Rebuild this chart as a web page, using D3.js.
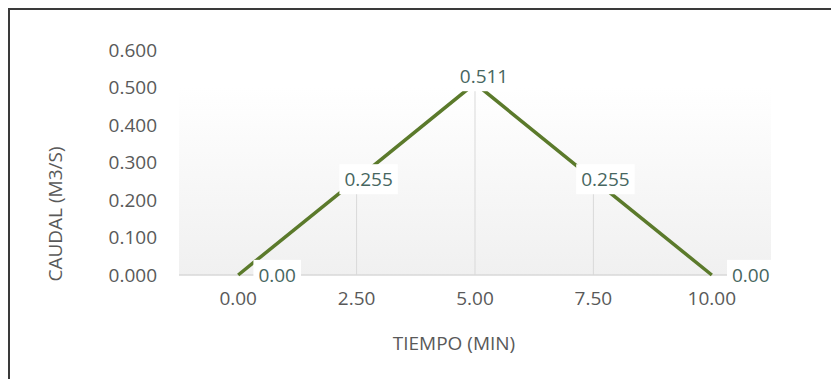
<!DOCTYPE html>
<html lang="es">
<head>
  <meta charset="UTF-8" />
  <title>Caudal vs Tiempo</title>
  <script src="https://d3js.org/d3.v7.min.js"></script>
  <style>
    body {
      margin: 0;
      background: #ffffff;
      font-family: "Open Sans", sans-serif;
    }
    svg {
      display: block;
    }
  </style>
</head>
<body>
<svg width="831" height="379"></svg>

<script>
  // data
  const tiempo = ["0.00", "2.50", "5.00", "7.50", "10.00"];
  const caudal = [0, 0.255, 0.511, 0.255, 0];
  const labels = ["0.00", "0.255", "0.511", "0.255", "0.00"];
  const yTicks = [0, 0.1, 0.2, 0.3, 0.4, 0.5, 0.6];

  const svg = d3.select("svg");
  const plot = { left: 179, right: 771, top: 50, bottom: 275 };
  const fontSize = "19px";

  const x = d3.scaleBand().domain(tiempo).range([plot.left, plot.right]).padding(0);
  const y = d3.scaleLinear().domain([0, 0.6]).range([plot.bottom, plot.top]);
  const cx = d => x(d) + x.bandwidth() / 2;

  // outer frame (runs past the right and bottom edges)
  svg.append("rect")
    .attr("x", 9).attr("y", 9)
    .attr("width", 840).attr("height", 400)
    .attr("fill", "none")
    .attr("stroke", "#3a3a3a")
    .attr("stroke-width", 2);

  // plot background gradient
  const grad = svg.append("defs").append("linearGradient")
    .attr("id", "bg").attr("x1", 0).attr("y1", 0).attr("x2", 0).attr("y2", 1);
  grad.append("stop").attr("offset", "0%").attr("stop-color", "#ffffff");
  grad.append("stop").attr("offset", "100%").attr("stop-color", "#f0f0f0");

  svg.append("rect")
    .attr("x", plot.left).attr("y", y(0.5))
    .attr("width", plot.right - plot.left)
    .attr("height", plot.bottom - y(0.5))
    .attr("fill", "url(#bg)");

  // drop lines
  svg.append("g").selectAll("line")
    .data(tiempo.map((t, i) => ({ t, v: caudal[i] })).filter(d => d.v > 0))
    .enter().append("line")
    .attr("x1", d => cx(d.t)).attr("x2", d => cx(d.t))
    .attr("y1", y(0)).attr("y2", d => y(d.v))
    .attr("stroke", "#d9d9d9")
    .attr("stroke-width", 1);

  // y axis
  const yAxis = svg.append("g")
    .attr("transform", `translate(${plot.left},0)`)
    .call(d3.axisLeft(y).tickValues(yTicks).tickFormat(d3.format(".3f")).tickSize(0).tickPadding(22));
  yAxis.select(".domain").remove();

  // x axis
  const xAxis = svg.append("g")
    .attr("transform", `translate(0,${plot.bottom})`)
    .call(d3.axisBottom(x).tickSize(0).tickPadding(17));
  xAxis.select(".domain").remove();

  svg.selectAll(".tick text")
    .attr("fill", "#595959")
    .style("font-family", "'Open Sans', sans-serif")
    .style("font-size", fontSize);

  // baseline
  svg.append("line")
    .attr("x1", plot.left).attr("x2", plot.right)
    .attr("y1", y(0)).attr("y2", y(0))
    .attr("stroke", "#d9d9d9")
    .attr("stroke-width", 1.5);

  // series line
  const line = d3.line().x((d, i) => cx(tiempo[i])).y(d => y(d));
  svg.append("path")
    .datum(caudal)
    .attr("fill", "none")
    .attr("stroke", "#5b7a2b")
    .attr("stroke-width", 3.5)
    .attr("d", line);

  // data labels with white boxes
  caudal.forEach((v, i) => {
    const isPeak = v === d3.max(caudal);
    const dx = v === 0 ? 39 : (isPeak ? 9 : 12);
    const dy = isPeak ? -7 : 0;
    const g = svg.append("g")
      .attr("transform", `translate(${cx(tiempo[i]) + dx},${y(v) + dy})`);
    const box = g.append("rect").attr("fill", "#ffffff");
    const t = g.append("text")
      .attr("text-anchor", "middle")
      .attr("dy", "0.36em")
      .attr("fill", "#476660")
      .style("font-size", fontSize)
      .text(labels[i]);
    const b = t.node().getBBox();
    box.attr("x", b.x - 5).attr("y", b.y - 2)
      .attr("width", b.width + 10).attr("height", b.height + 4);
  });

  // axis titles
  svg.append("text")
    .attr("x", 454).attr("y", 343)
    .attr("text-anchor", "middle")
    .attr("dy", "0.36em")
    .attr("fill", "#595959")
    .style("font-size", fontSize)
    .text("TIEMPO (MIN)");

  svg.append("text")
    .attr("transform", "translate(55,214) rotate(-90)")
    .attr("text-anchor", "middle")
    .attr("dy", "0.36em")
    .attr("fill", "#595959")
    .style("font-size", fontSize)
    .text("CAUDAL (M3/S)");
</script>
</body>
</html>
